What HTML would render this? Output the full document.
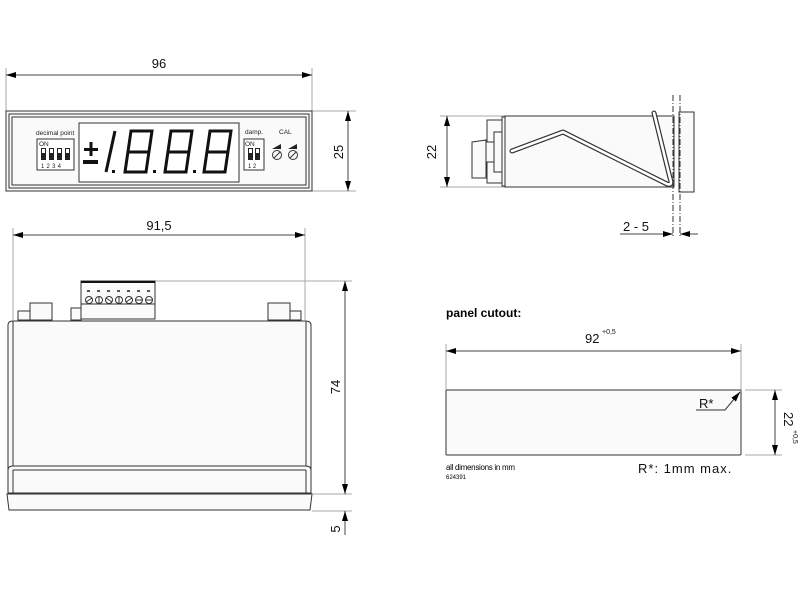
<!DOCTYPE html>
<html><head><meta charset="utf-8"><style>
html,body{margin:0;padding:0;background:#fff;}
svg{display:block;font-family:"Liberation Sans",sans-serif;}
</style></head><body>
<svg width="800" height="600" viewBox="0 0 800 600" xmlns="http://www.w3.org/2000/svg">
<defs>
<marker id="a" viewBox="0 0 10 6" refX="10" refY="3" markerWidth="10" markerHeight="6" orient="auto-start-reverse" markerUnits="userSpaceOnUse"><path d="M0,0 L10,3 L0,6z" fill="#000"/></marker>
</defs>
<g stroke="#aaa" stroke-width="1" fill="none">
<line x1="6" y1="68" x2="6" y2="111"/><line x1="312" y1="68" x2="312" y2="111"/>
<line x1="312" y1="111" x2="356" y2="111"/><line x1="312" y1="191" x2="356" y2="191"/>
<line x1="13" y1="228" x2="13" y2="320"/><line x1="305" y1="228" x2="305" y2="320"/>
<line x1="155" y1="281" x2="352" y2="281"/><line x1="312" y1="494" x2="352" y2="494"/>
<line x1="312" y1="511" x2="352" y2="511"/>
<line x1="440" y1="116" x2="505" y2="116"/><line x1="440" y1="187" x2="505" y2="187"/>
<line x1="680" y1="234" x2="690" y2="234"/>
<line x1="446" y1="344" x2="446" y2="390"/><line x1="741" y1="344" x2="741" y2="390"/>
<line x1="745" y1="390" x2="782" y2="390"/><line x1="745" y1="455" x2="782" y2="455"/>
</g>
<g stroke="#444" stroke-width="1" fill="none">
<line x1="6" y1="75" x2="312" y2="75" marker-start="url(#a)" marker-end="url(#a)"/>
<line x1="348" y1="111" x2="348" y2="191" marker-start="url(#a)" marker-end="url(#a)"/>
<line x1="13" y1="235" x2="305" y2="235" marker-start="url(#a)" marker-end="url(#a)"/>
<line x1="345" y1="281" x2="345" y2="494" marker-start="url(#a)" marker-end="url(#a)"/>
<line x1="345" y1="535" x2="345" y2="511" marker-end="url(#a)"/>
<line x1="447" y1="116" x2="447" y2="187" marker-start="url(#a)" marker-end="url(#a)"/>
<line x1="620" y1="234" x2="673" y2="234" marker-end="url(#a)"/>
<line x1="698" y1="234" x2="680" y2="234" marker-end="url(#a)"/>
<line x1="446" y1="351" x2="741" y2="351" marker-start="url(#a)" marker-end="url(#a)"/>
<line x1="775" y1="390" x2="775" y2="455" marker-start="url(#a)" marker-end="url(#a)"/>
</g>
<!-- front view -->
<g stroke="#333" fill="none" stroke-width="1">
<rect x="6" y="111" width="306" height="80" fill="#fafafa"/>
<rect x="9" y="114" width="300" height="74"/>
<rect x="12" y="117" width="294" height="68"/>
<rect x="79" y="123" width="160" height="59" fill="#fff"/>
<rect x="37" y="139" width="37" height="31" fill="#fff"/>
<rect x="244" y="139" width="20" height="31" fill="#fff"/>
<circle cx="277" cy="155" r="4.5"/><circle cx="293" cy="155" r="4.5"/>
<line x1="274" y1="158" x2="280" y2="152"/><line x1="290" y1="158" x2="296" y2="152"/>
</g>
<g fill="#222">
<rect x="41" y="148" width="5" height="12"/><rect x="49" y="148" width="5" height="12"/><rect x="57" y="148" width="5" height="12"/><rect x="65" y="148" width="5" height="12"/>
<rect x="248" y="148" width="5" height="12"/><rect x="255" y="148" width="5" height="12"/>
<path d="M272,149 L281,144 L281,149z"/><path d="M288,149 L297,144 L297,149z"/>
</g>
<g fill="#fff"><rect x="42" y="149" width="3" height="4"/><rect x="50" y="149" width="3" height="4"/><rect x="58" y="149" width="3" height="4"/><rect x="66" y="149" width="3" height="4"/><rect x="249" y="149" width="3" height="4"/><rect x="256" y="149" width="3" height="4"/></g>
<g font-size="6.5" fill="#222">
<text x="36" y="135">decimal point</text>
<text x="39" y="146">ON</text>
<text x="41" y="168" font-size="6" letter-spacing="2.2">1234</text>
<text x="245" y="134">damp.</text>
<text x="245" y="146">ON</text>
<text x="248" y="168" font-size="6" letter-spacing="1.5">12</text>
<text x="279" y="134">CAL</text>
</g>
<g fill="#111">
<rect x="84" y="148" width="14" height="3"/><rect x="89.5" y="142" width="3" height="14"/>
<rect x="83" y="160" width="15" height="4"/>
</g>
<g stroke="#111" stroke-width="3" fill="none">
<line x1="115" y1="131" x2="106" y2="172"/>
<path d="M131,131 L152,131 L146,172 L125,172 Z M128,152 L149,152"/>
<path d="M171,131 L192,131 L186,172 L165,172 Z M168,152 L189,152"/>
<path d="M210,131 L231,131 L225,172 L204,172 Z M207,152 L228,152"/>
</g>
<g fill="#111"><rect x="112" y="170" width="3" height="3"/><rect x="153" y="170" width="3" height="3"/><rect x="193" y="170" width="3" height="3"/></g>
<!-- side view -->
<g stroke="#333" fill="#fafafa" stroke-width="1">
<rect x="505" y="116" width="169" height="71"/>
<rect x="679" y="112" width="15" height="80"/>
<rect x="487" y="120" width="15" height="63"/>
<rect x="502" y="117" width="3" height="69"/>
<rect x="494" y="132" width="8" height="40"/>
<rect x="486" y="142" width="8" height="20"/>
<path d="M472,142 L486,140 L486,178 L472,178 Z"/>
</g>
<path d="M512,151 L563,132 L667,184 Q673,186 670,178 L654,113" stroke="#333" stroke-width="5" fill="none" stroke-linejoin="round" stroke-linecap="round"/>
<path d="M512,151 L563,132 L667,184 Q673,186 670,178 L654,113" stroke="#fff" stroke-width="2.6" fill="none" stroke-linejoin="round" stroke-linecap="round"/>
<g stroke="#333" stroke-dasharray="6,2,1,2" stroke-width="1">
<line x1="673" y1="95" x2="673" y2="238"/><line x1="680" y1="95" x2="680" y2="238"/>
</g>
<!-- top view -->
<g stroke="#333" fill="#fafafa" stroke-width="1">
<rect x="18" y="311" width="12" height="9"/><rect x="30" y="303" width="22" height="17"/>
<rect x="71" y="308" width="10" height="12"/>
<rect x="268" y="303" width="22" height="17"/><rect x="290" y="311" width="11" height="9"/>
<rect x="81" y="281" width="74" height="38"/>
<line x1="81" y1="304" x2="155" y2="304"/>
<path d="M8,325 Q8,321 13,321 L305,321 Q311,321 311,325 L311,493 L8,493 Z"/>
<line x1="13" y1="321" x2="13" y2="493"/><line x1="306" y1="321" x2="306" y2="493"/>
<path d="M8,470 Q8,466 13,466 L305,466 Q311,466 311,470"/>
<line x1="13" y1="470" x2="306" y2="470"/>
<path d="M7,494 L312,494 L310,510 L9,510 Z"/>
</g>
<line x1="81" y1="282" x2="155" y2="282" stroke="#111" stroke-width="2"/>
<g stroke="#333" fill="#fff">
<circle cx="89" cy="300" r="3.5"/><circle cx="99" cy="300" r="3.5"/><circle cx="109" cy="300" r="3.5"/><circle cx="119" cy="300" r="3.5"/><circle cx="129" cy="300" r="3.5"/><circle cx="139" cy="300" r="3.5"/><circle cx="149" cy="300" r="3.5"/>
</g>
<g stroke="#333"><line x1="86" y1="302" x2="92" y2="298"/><line x1="99" y1="296" x2="99" y2="304"/><line x1="106" y1="298" x2="112" y2="302"/><line x1="119" y1="296" x2="119" y2="304"/><line x1="126" y1="302" x2="132" y2="298"/><line x1="135" y1="300" x2="143" y2="300"/><line x1="145" y1="300" x2="153" y2="300"/></g>
<g fill="#555"><rect x="87" y="290" width="3" height="2"/><rect x="97" y="290" width="3" height="2"/><rect x="107" y="290" width="3" height="2"/><rect x="117" y="290" width="3" height="2"/><rect x="127" y="290" width="3" height="2"/><rect x="137" y="290" width="3" height="2"/><rect x="147" y="290" width="3" height="2"/></g>
<!-- cutout -->
<rect x="446" y="390" width="295" height="65" rx="1" fill="#fafafa" stroke="#333"/>
<path d="M696,410 L725,410 L740,392" stroke="#333" fill="none" marker-end="url(#a)"/>
<g font-size="13" fill="#111">
<text x="159" y="68" text-anchor="middle">96</text>
<text x="159" y="230" text-anchor="middle">91,5</text>
<text transform="translate(343,152) rotate(-90)" text-anchor="middle">25</text>
<text transform="translate(340,387) rotate(-90)" text-anchor="middle">74</text>
<text transform="translate(340,529) rotate(-90)" text-anchor="middle">5</text>
<text transform="translate(436,152) rotate(-90)" text-anchor="middle">22</text>
<text x="636" y="231" text-anchor="middle">2 - 5</text>
<text x="585" y="343">92</text><text x="602" y="334" font-size="7">+0,5</text>
<text transform="translate(784,412) rotate(90)">22</text>
<text transform="translate(793,430) rotate(90)" font-size="7">+0,5</text>
<text x="699" y="408">R*</text>
<text x="638" y="473" letter-spacing="1">R*: 1mm max.</text>
</g>
<text x="446" y="317" font-size="12" font-weight="bold">panel cutout:</text>
<text x="446" y="470" font-size="8" letter-spacing="-0.3">all dimensions in mm</text>
<text x="446" y="479" font-size="6">624391</text>
</svg>
</body></html>
